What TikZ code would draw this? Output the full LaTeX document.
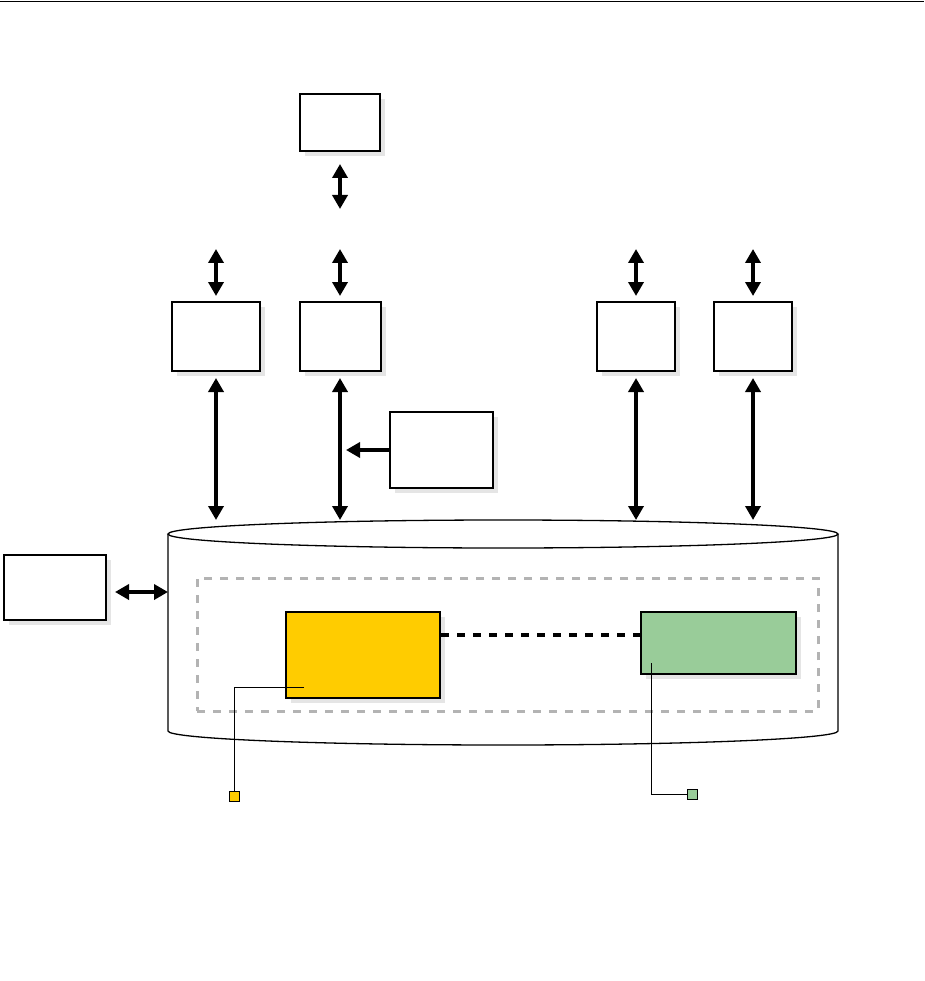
\documentclass[tikz,border=0pt]{standalone}
\usepackage{xcolor}
\usepackage{tikz}
\usetikzlibrary{arrows.meta,positioning,shadows}
\definecolor{storeyellow}{HTML}{FFCC00}
\definecolor{storegreen}{HTML}{99CC99}
\definecolor{framegray}{HTML}{B3B3B3}

\begin{document}
\begin{tikzpicture}[
  x=1pt,y=-1pt,
  box/.style={draw,line width=2pt,fill=white,inner sep=0pt,
    drop shadow={shadow xshift=5pt,shadow yshift=-5pt,fill=black!10,opacity=1}},
  dbl/.style={{Triangle[length=14pt,width=15pt]}-{Triangle[length=14pt,width=15pt]},line width=3.5pt},
  single/.style={-{Triangle[length=14pt,width=15pt]},line width=3.5pt},
  tag/.style={draw,line width=0.8pt,minimum size=10pt,inner sep=0pt},
  callout/.style={line width=1pt}
]
\useasboundingbox (0,0) rectangle (924,981);
\draw[line width=1.5pt] (0,1.5) -- (924,1.5);

% boxes
\node[box,minimum width=80pt,minimum height=57pt] (top) at (340,122.5) {};
\node[box,minimum width=88pt,minimum height=69pt] (clientA) at (216,336.5) {};
\node[box,minimum width=81pt,minimum height=69pt] (clientB) at (340,336.5) {};
\node[box,minimum width=78pt,minimum height=69pt] (clientC) at (636,336.5) {};
\node[box,minimum width=78pt,minimum height=69pt] (clientD) at (753,336.5) {};
\node[box,minimum width=103pt,minimum height=76pt] (feeder) at (441.5,450) {};
\node[box,minimum width=102pt,minimum height=65pt] (side) at (55,587.5) {};

% storage cylinder
\coordinate (dbtop) at (503,520);
\coordinate (dbleft) at (168,592);
\draw[line width=1.3pt,fill=white] (168,534) -- (168,731)
  arc[start angle=180,end angle=360,x radius=335pt,y radius=14pt] -- (838,534);
\draw[line width=1.3pt] (503,534) ellipse[x radius=335pt,y radius=14pt];

\node[draw=framegray,dashed,dash pattern=on 8pt off 8pt,line width=3pt,
  minimum width=621pt,minimum height=133pt] (core) at (507.5,644.5) {};
\node[box,fill=storeyellow,minimum width=154pt,minimum height=86pt] (ybox) at (363,655) {};
\node[box,fill=storegreen,minimum width=155pt,minimum height=62pt] (gbox) at (718.5,643) {};
\draw[line width=4pt,dash pattern=on 8pt off 8pt]
  ([yshift=8pt]gbox.west -| ybox.east) -- ([yshift=8pt]gbox.west);

% arrows
\draw[dbl] ([yshift=-12pt]top.south) -- ++(0,45);
\foreach \c in {clientA,clientB,clientC,clientD}{
  \draw[dbl] ([yshift=5pt]\c.north) -- ++(0,-47);
  \draw[dbl] ([yshift=-6pt]\c.south) -- (\c.south |- dbtop);
}
\draw[single] (feeder.west) -- ([xshift=6pt]feeder.west -| clientB.south);
\draw[dbl] ([xshift=8pt,yshift=-4.5pt]side.east) -- (dbleft);

% tags
\node[tag,fill=storeyellow] (ytag) at (234,796) {};
\node[tag,fill=storegreen] (gtag) at (692,794) {};
\coordinate (ypin) at (304,687);
\coordinate (gpin) at (651,663);
\draw[callout] (ypin) -| (ytag.north);
\draw[callout] (gpin) |- (gtag.west);
\end{tikzpicture}
\end{document}
